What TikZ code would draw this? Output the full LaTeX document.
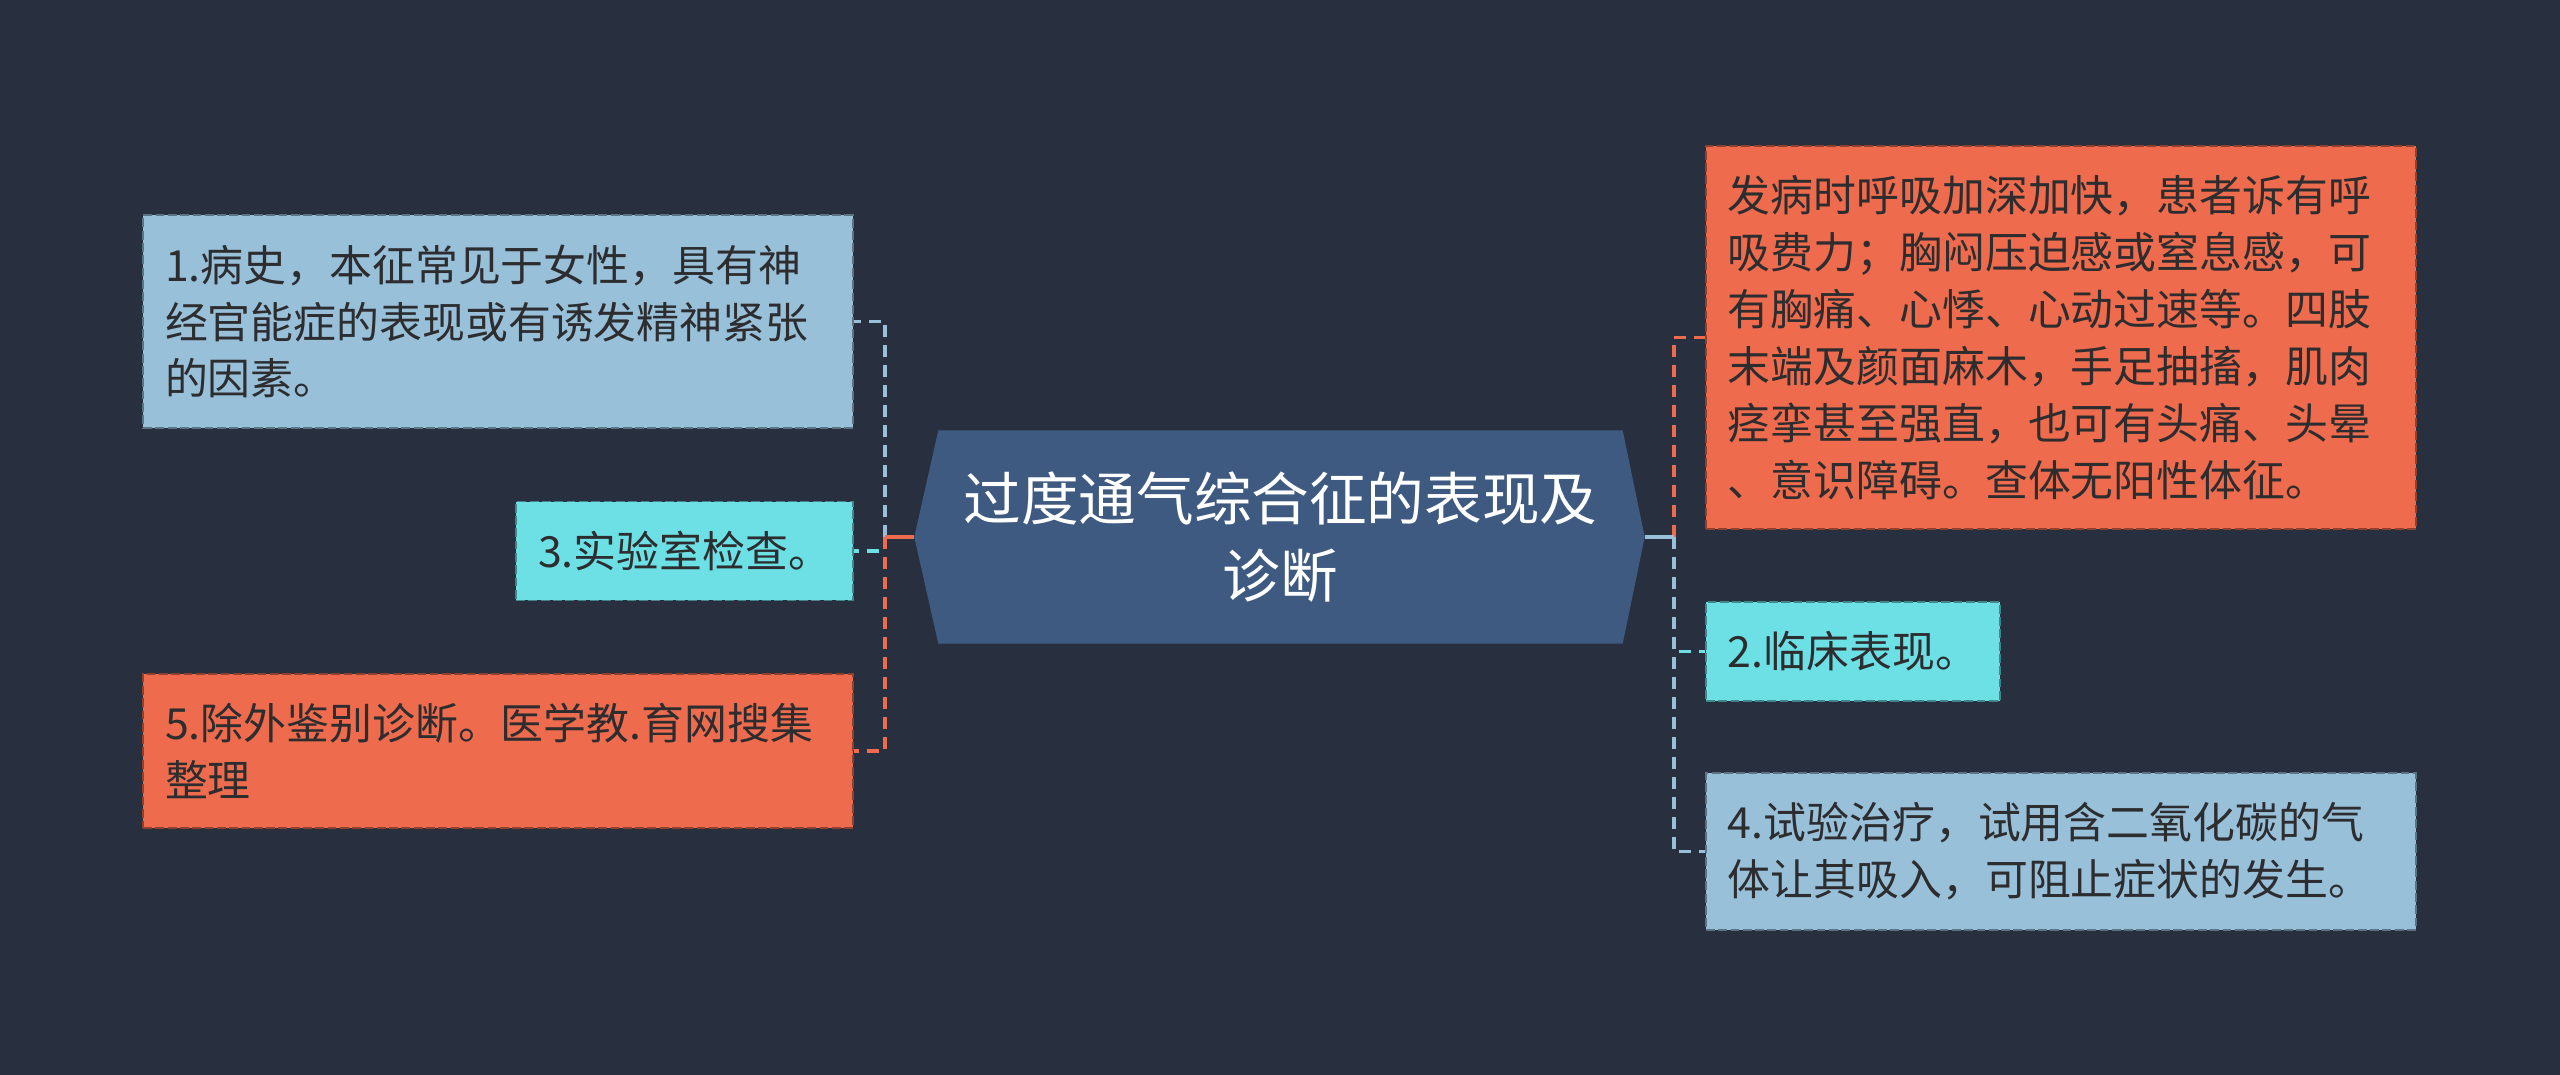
\documentclass[tikz,border=0pt]{standalone}
\usepackage{fontspec}
\setmainfont{Noto Sans CJK SC}
\usetikzlibrary{positioning, calc, backgrounds}
\definecolor{pagebg}{RGB}{40, 48, 63}
\definecolor{topicbg}{RGB}{62, 90, 128}
\definecolor{leafblue}{RGB}{152, 192, 217}
\definecolor{leafcyan}{RGB}{108, 224, 229}
\definecolor{leaforange}{RGB}{238, 108, 77}
\definecolor{leaftext}{RGB}{45, 45, 48}
\tikzset{
  leaf/.style={fill=#1, draw=#1!60!black, dash pattern=on 2.5pt off 1pt, line width=0.5pt,
    inner xsep=0.22cm, inner ysep=0.295cm, text=leaftext, align=left,
    font=\fontsize{12.2pt}{16.2pt}\selectfont},
  wideleaf/.style={leaf=#1, text width=6.66cm},
  topic/.style={text=white, align=center, inner sep=0pt, minimum width=6.83cm, minimum height=2.12cm,
    font=\fontsize{16.4pt}{21.9pt}\selectfont},
  link/.style={#1, line width=1.1pt, dash pattern=on 0.12cm off 0.08cm},
  stub/.style={#1, line width=1.1pt}
}

\begin{document}
\begin{tikzpicture}
  \useasboundingbox (0,0) rectangle (25.6,-10.75);

  % Central topic
  \node[topic] (topic) at (12.805,-5.37) {过度通气综合征的表现及\\诊断};
  \coordinate (topic-l) at ($(topic.west)+(-0.24,0)$);
  \coordinate (topic-r) at ($(topic.east)+(0.22,0)$);
  \coordinate[left=0.29cm of topic-l] (lj);
  \coordinate[right=0.29cm of topic-r] (rj);

  % Left leaves
  \node[wideleaf=leafblue, anchor=east] (history) at (8.54,-3.215) {1.病史，本征常见于女性，具有神\\经官能症的表现或有诱发精神紧张\\的因素。};
  \node[leaf=leafcyan, anchor=east] (lab) at (8.54,-5.51) {3.实验室检查。};
  \node[wideleaf=leaforange, anchor=east] (diff) at (8.54,-7.51) {5.除外鉴别诊断。医学教.育网搜集\\整理};

  % Right leaves
  \node[wideleaf=leaforange, anchor=west] (symptom) at (17.05,-3.375) {发病时呼吸加深加快，患者诉有呼\\吸费力；胸闷压迫感或窒息感，可\\有胸痛、心悸、心动过速等。四肢\\末端及颜面麻木，手足抽搐，肌肉\\痉挛甚至强直，也可有头痛、头晕\\、意识障碍。查体无阳性体征。};
  \node[leaf=leafcyan, anchor=west] (clinic) at (17.05,-6.515) {2.临床表现。};
  \node[wideleaf=leafblue, anchor=west] (trial) at (17.05,-8.515) {4.试验治疗，试用含二氧化碳的气\\体让其吸入，可阻止症状的发生。};

  % Branches
  \draw[link=leafblue] (lj) |- (history.east);
  \draw[link=leafcyan] (lj) |- (lab.east);
  \draw[link=leaforange] (lj) |- (diff.east);
  \draw[stub=leaforange] (topic-l) -- (lj);

  \draw[link=leaforange] (rj) |- (symptom.west);
  \draw[link=leafcyan] (rj) |- (clinic.west);
  \draw[link=leafblue] (rj) |- (trial.west);
  \draw[stub=leafblue] (topic-r) -- (rj);

  \begin{pgfonlayer}{background}
    \fill[pagebg] (0,0) rectangle (25.6,-10.75);
    \fill[topicbg] (topic-l) -- (topic.north west) -- (topic.north east) -- (topic-r)
      -- (topic.south east) -- (topic.south west) -- cycle;
  \end{pgfonlayer}
\end{tikzpicture}
\end{document}
